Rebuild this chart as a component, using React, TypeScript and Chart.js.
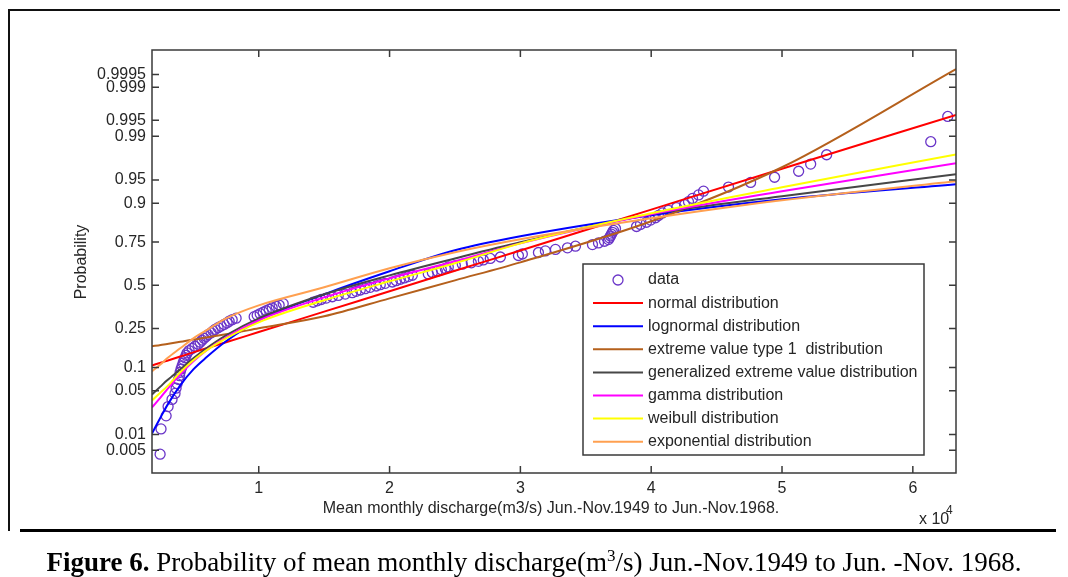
import React, { useEffect, useRef } from 'react';
import { Chart, registerables, LinearScale } from 'chart.js';

// ---------- data ----------
const GRID_X = [1840, 2500, 3000, 4000, 5000, 6000, 7500, 10000, 15000, 20000, 25000, 30000, 40000, 50000, 63300];

const NORMAL = [0.1056, 0.1136, 0.1198, 0.1331, 0.1477, 0.1628, 0.1872, 0.2330, 0.3405, 0.4634, 0.5896, 0.7070, 0.8814, 0.9655, 0.9961];
const LOGNORMAL = [0.0104, 0.0197, 0.0305, 0.0593, 0.0948, 0.1305, 0.1911, 0.2924, 0.4442, 0.5866, 0.7076, 0.7779, 0.8629, 0.9102, 0.9426];
const EV1 = [0.1706, 0.1762, 0.1800, 0.1888, 0.1986, 0.2075, 0.2221, 0.2510, 0.3143, 0.4195, 0.5310, 0.6400, 0.8413, 0.9673, 0.99963];
const GEV = [0.0443, 0.0574, 0.0690, 0.0948, 0.1273, 0.1628, 0.2176, 0.3030, 0.4442, 0.5619, 0.6626, 0.7490, 0.8662, 0.9178, 0.9584];
const GAMMA = [0.0284, 0.0401, 0.0522, 0.0822, 0.1177, 0.1550, 0.2084, 0.2924, 0.4256, 0.5434, 0.6460, 0.7438, 0.8662, 0.9289, 0.9717];
const WEIBULL = [0.0362, 0.0474, 0.0574, 0.0874, 0.1208, 0.1550, 0.2041, 0.2818, 0.4076, 0.5249, 0.6344, 0.7438, 0.8695, 0.9369, 0.9795];
const EXPONENTIAL = [0.0897, 0.1088, 0.1273, 0.1628, 0.2041, 0.2411, 0.3030, 0.3774, 0.4877, 0.6048, 0.6970, 0.7637, 0.8521, 0.9077, 0.9478];

const DATA_X = [
  2460, 2530, 2920, 3070, 3370, 3600, 3680, 3760, 3870, 3950,
  3990, 4060, 4140, 4220, 4290, 4370, 4450, 4520, 4680, 4910,
  5130, 5360, 5520, 5670, 5820, 5980, 6130, 6360, 6510, 6660,
  6890, 7120, 7350, 7580, 7740, 7970, 8270, 9650, 9880, 10110,
  10340, 10570, 10800, 11030, 11330, 11560, 11870, 14160, 14470, 14770,
  15160, 15620, 16080, 16610, 17150, 17450, 17760, 18140, 18520, 18980,
  19290, 19670, 20210, 20510, 20820, 21130, 21430, 21740, 22960, 23270,
  23650, 23960, 24260, 24490, 25030, 25560, 26250, 26790, 27170, 27700,
  28470, 29850, 30150, 31380, 31910, 32680, 33600, 34210, 35510, 35970,
  36430, 36730, 36810, 36890, 36960, 37040, 37120, 37270, 38880, 39180,
  39640, 39950, 40330, 40560, 40860, 41320, 41940, 42550, 42850, 43160,
  43620, 44000, 45910, 47600, 49430, 51270, 52190, 53410, 61370, 62670,
];
const DATA_P = [
  0.0042, 0.0125, 0.0208, 0.0292, 0.0375, 0.0458, 0.0542, 0.0625, 0.0708, 0.0792,
  0.0875, 0.0958, 0.1042, 0.1125, 0.1208, 0.1292, 0.1375, 0.1458, 0.1542, 0.1625,
  0.1708, 0.1792, 0.1875, 0.1958, 0.2042, 0.2125, 0.2208, 0.2292, 0.2375, 0.2458,
  0.2542, 0.2625, 0.2708, 0.2792, 0.2875, 0.2958, 0.3042, 0.3125, 0.3208, 0.3292,
  0.3375, 0.3458, 0.3542, 0.3625, 0.3708, 0.3792, 0.3875, 0.3958, 0.4042, 0.4125,
  0.4208, 0.4292, 0.4375, 0.4458, 0.4542, 0.4625, 0.4708, 0.4792, 0.4875, 0.4958,
  0.5042, 0.5125, 0.5208, 0.5292, 0.5375, 0.5458, 0.5542, 0.5625, 0.5708, 0.5792,
  0.5875, 0.5958, 0.6042, 0.6125, 0.6208, 0.6292, 0.6375, 0.6458, 0.6542, 0.6625,
  0.6708, 0.6792, 0.6875, 0.6958, 0.7042, 0.7125, 0.7208, 0.7292, 0.7375, 0.7458,
  0.7542, 0.7625, 0.7708, 0.7792, 0.7875, 0.7958, 0.8042, 0.8125, 0.8208, 0.8292,
  0.8375, 0.8458, 0.8542, 0.8625, 0.8708, 0.8792, 0.8875, 0.8958, 0.9042, 0.9125,
  0.9208, 0.9292, 0.9375, 0.9458, 0.9542, 0.9625, 0.9708, 0.9792, 0.9875, 0.9958,
];

const Y_TICK_PROBS = [0.005, 0.01, 0.05, 0.1, 0.25, 0.5, 0.75, 0.9, 0.95, 0.99, 0.995, 0.999, 0.9995];
const Y_TICK_LABELS = ['0.005', '0.01', '0.05', '0.1', '0.25', '0.5', '0.75', '0.9', '0.95', '0.99', '0.995', '0.999', '0.9995'];
const X_TICKS = [10000, 20000, 30000, 40000, 50000, 60000];
const X_TICK_LABELS = ['1', '2', '3', '4', '5', '6'];

const SERIES_LABELS = [
  'normal distribution',
  'lognormal distribution',
  'extreme value type 1  distribution',
  'generalized extreme value distribution',
  'gamma distribution',
  'weibull distribution',
  'exponential distribution',
];
const SERIES_VALUES = [NORMAL, LOGNORMAL, EV1, GEV, GAMMA, WEIBULL, EXPONENTIAL];
const SERIES_COLORS = ['#ff0000', '#0000ff', '#b5601c', '#474747', '#ff00ff', '#ffff00', '#ffa050'];
const DATA_COLOR = '#6a35c8';

const X_TITLE = 'Mean monthly discharge(m3/s) Jun.-Nov.1949 to Jun.-Nov.1968.';
const Y_TITLE = 'Probability';

// ---------- probability (normal) scale ----------
function probit(p: number): number {
  const a = [-3.969683028665376e1, 2.209460984245205e2, -2.759285104469687e2, 1.38357751867269e2, -3.066479806614716e1, 2.506628277459239];
  const b = [-5.447609879822406e1, 1.615858368580409e2, -1.556989798598866e2, 6.680131188771972e1, -1.328068155288572e1];
  const c = [-7.784894002430293e-3, -3.223964580411365e-1, -2.400758277161838, -2.549732539343734, 4.374664141464968, 2.938163982698783];
  const d = [7.784695709041462e-3, 3.224671290700398e-1, 2.445134137142996, 3.754408661907416];
  const pl = 0.02425;
  if (p < pl) {
    const q = Math.sqrt(-2 * Math.log(p));
    return (((((c[0] * q + c[1]) * q + c[2]) * q + c[3]) * q + c[4]) * q + c[5]) / ((((d[0] * q + d[1]) * q + d[2]) * q + d[3]) * q + 1);
  }
  if (p > 1 - pl) {
    const q = Math.sqrt(-2 * Math.log(1 - p));
    return -(((((c[0] * q + c[1]) * q + c[2]) * q + c[3]) * q + c[4]) * q + c[5]) / ((((d[0] * q + d[1]) * q + d[2]) * q + d[3]) * q + 1);
  }
  const q = p - 0.5;
  const r = q * q;
  return ((((((a[0] * r + a[1]) * r + a[2]) * r + a[3]) * r + a[4]) * r + a[5]) * q) / (((((b[0] * r + b[1]) * r + b[2]) * r + b[3]) * r + b[4]) * r + 1);
}

class ProbitScale extends LinearScale {
  static id = 'probit';
  static defaults = LinearScale.defaults;
  determineDataLimits() {
    const o: any = (this as any).options;
    (this as any).min = probit(o.min);
    (this as any).max = probit(o.max);
  }
  buildTicks() {
    return Y_TICK_PROBS.map((p) => ({ value: p }));
  }
  getPixelForValue(value: any) {
    if (value === null || value === undefined) return NaN;
    const s: any = this;
    return s.getPixelForDecimal((probit(value) - s._startValue) / s._valueRange);
  }
  getValueForPixel() {
    return 0.5;
  }
}

Chart.register(...registerables, ProbitScale as any);

const FONT = '"Liberation Sans", Arial, sans-serif';
const TEXT_COLOR = '#262626';
const AXIS_COLOR = '#3a3a3a';

const decorPlugin = {
  id: 'decor',
  afterDraw(chart: any) {
    const ctx = chart.ctx as CanvasRenderingContext2D;
    const { left, right, top, bottom } = chart.chartArea;
    const xs = chart.scales.x;
    const ys = chart.scales.y;
    ctx.save();
    ctx.strokeStyle = AXIS_COLOR;
    ctx.lineWidth = 1.5;
    ctx.strokeRect(left, top, right - left, bottom - top);
    const tl = 7;
    ctx.beginPath();
    ys.ticks.forEach((t: any) => {
      const y = ys.getPixelForValue(t.value);
      ctx.moveTo(left, y);
      ctx.lineTo(left + tl, y);
      ctx.moveTo(right, y);
      ctx.lineTo(right - tl, y);
    });
    xs.ticks.forEach((t: any) => {
      const x = xs.getPixelForValue(t.value);
      ctx.moveTo(x, bottom);
      ctx.lineTo(x, bottom - tl);
      ctx.moveTo(x, top);
      ctx.lineTo(x, top + tl);
    });
    ctx.stroke();

    // axis titles
    ctx.fillStyle = TEXT_COLOR;
    ctx.font = `16px ${FONT}`;
    ctx.textAlign = 'center';
    ctx.textBaseline = 'middle';
    ctx.fillText(X_TITLE, 551, 509);
    ctx.save();
    ctx.translate(82, 262);
    ctx.rotate(-Math.PI / 2);
    ctx.fillText(Y_TITLE, 0, 0);
    ctx.restore();
    // exponent
    ctx.textAlign = 'left';
    ctx.fillText('x 10', 919, 520);
    ctx.font = `12px ${FONT}`;
    ctx.fillText('4', 946, 511);

    // legend
    const lx = 583, ly = 264, lw = 341, lh = 191;
    ctx.fillStyle = '#ffffff';
    ctx.fillRect(lx, ly, lw, lh);
    ctx.strokeStyle = AXIS_COLOR;
    ctx.lineWidth = 1.5;
    ctx.strokeRect(lx, ly, lw, lh);
    ctx.font = `16px ${FONT}`;
    ctx.textBaseline = 'middle';
    ctx.textAlign = 'left';
    const rowY = (k: number) => 280 + k * 23.1;
    // data entry
    ctx.strokeStyle = DATA_COLOR;
    ctx.lineWidth = 1.3;
    ctx.beginPath();
    ctx.arc(618, rowY(0), 5, 0, Math.PI * 2);
    ctx.stroke();
    ctx.fillStyle = TEXT_COLOR;
    ctx.fillText('data', 648, rowY(0));
    SERIES_LABELS.forEach((lab, i) => {
      const y = rowY(i + 1);
      ctx.strokeStyle = SERIES_COLORS[i];
      ctx.lineWidth = 2;
      ctx.beginPath();
      ctx.moveTo(593, y);
      ctx.lineTo(643, y);
      ctx.stroke();
      ctx.fillStyle = TEXT_COLOR;
      ctx.fillText(lab, 648, y);
    });
    ctx.restore();
  },
};

export default function App() {
  const ref = useRef<HTMLCanvasElement | null>(null);
  useEffect(() => {
    if (!ref.current) return;
    const lineSets = SERIES_VALUES.map((vals, i) => ({
      label: SERIES_LABELS[i],
      data: GRID_X.map((x, j) => ({ x, y: vals[j] })),
      showLine: true,
      borderColor: SERIES_COLORS[i],
      backgroundColor: SERIES_COLORS[i],
      borderWidth: 2,
      pointRadius: 0,
      cubicInterpolationMode: 'monotone',
      order: SERIES_LABELS.length - 1 - i,
    }));
    const dataSet = {
      label: 'data',
      data: DATA_X.map((x, j) => ({ x, y: DATA_P[j] })),
      showLine: false,
      pointRadius: 5,
      pointBorderWidth: 1.3,
      pointBorderColor: DATA_COLOR,
      pointBackgroundColor: 'rgba(0,0,0,0)',
      order: 10,
    };
    const chart = new Chart(ref.current, {
      type: 'scatter',
      data: { datasets: [dataSet, ...lineSets] as any },
      options: {
        responsive: false,
        animation: false,
        events: [],
        layout: { padding: { top: 50, right: 112, left: 0, bottom: 0 } },
        plugins: { legend: { display: false }, tooltip: { enabled: false } },
        scales: {
          x: {
            type: 'linear',
            min: 1840,
            max: 63300,
            grid: { display: false, drawTicks: false },
            border: { display: false },
            afterBuildTicks: (s: any) => {
              s.ticks = X_TICKS.map((v) => ({ value: v }));
            },
            afterFit: (s: any) => {
              s.height = 104;
            },
            ticks: {
              autoSkip: false,
              maxRotation: 0,
              padding: 6,
              color: TEXT_COLOR,
              font: { family: FONT, size: 16 },
              callback: (_v: any, i: number) => X_TICK_LABELS[i],
            },
          },
          y: {
            type: 'probit' as any,
            min: 0.0017,
            max: 0.99988,
            grid: { display: false, drawTicks: false },
            border: { display: false },
            afterFit: (s: any) => {
              s.width = 152;
            },
            ticks: {
              autoSkip: false,
              padding: 6,
              color: TEXT_COLOR,
              font: { family: FONT, size: 16 },
              callback: (_v: any, i: number) => Y_TICK_LABELS[i],
            },
          },
        } as any,
      },
      plugins: [decorPlugin],
    });
    return () => chart.destroy();
  }, []);

  return (
    <div style={{ position: 'absolute', left: 0, top: 0, width: 1068, height: 577, background: '#fff', overflow: 'hidden' }}>
      <canvas ref={ref} width={1068} height={577} style={{ position: 'absolute', left: 0, top: 0 }} />
      <div style={{ position: 'absolute', left: 8, top: 9, width: 1052, height: 2, background: '#111' }} />
      <div style={{ position: 'absolute', left: 8, top: 9, width: 2, height: 522, background: '#111' }} />
      <div style={{ position: 'absolute', left: 20, top: 529, width: 1036, height: 3, background: '#000' }} />
      <div
        style={{
          position: 'absolute',
          left: 0,
          top: 549,
          width: 1068,
          textAlign: 'center',
          fontFamily: '"Liberation Serif", "Times New Roman", serif',
          fontSize: 27,
          lineHeight: '27px',
          color: '#000',
          whiteSpace: 'nowrap',
        }}
      >
        <b>Figure 6.</b> Probability of mean monthly discharge(m<sup style={{ fontSize: 17, lineHeight: 0 }}>3</sup>/s) Jun.-Nov.1949 to Jun. -Nov. 1968.
      </div>
    </div>
  );
}
